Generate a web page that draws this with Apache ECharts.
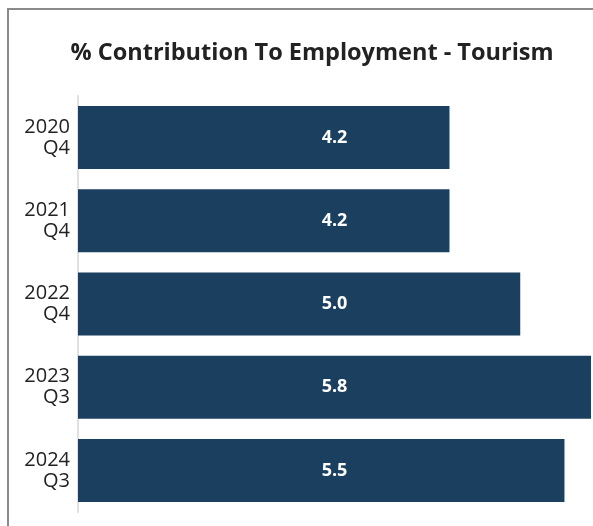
<!DOCTYPE html>
<html><head><meta charset="utf-8">
<script src="https://cdn.jsdelivr.net/npm/echarts@6/dist/echarts.min.js"></script>
<style>html,body{margin:0;padding:0;background:#fff}#c{width:593px;height:526px}</style>
</head><body><div id="c"></div>
<script>
const title = '% Contribution To Employment - Tourism';
const categories = ['2020\nQ4', '2021\nQ4', '2022\nQ4', '2023\nQ3', '2024\nQ3'];
const values = [4.2, 4.2, 5.0, 5.8, 5.5];
const axisMax = Math.max(...values);

const chart = echarts.init(document.getElementById('c'), null, {renderer: 'canvas'});
chart.setOption({
  animation: false,
  backgroundColor: '#fff',
  title: {
    text: title, left: 307, top: 36, textAlign: 'center',
    textStyle: {fontFamily: 'Open Sans', fontWeight: 'bold', fontSize: 23.5, color: '#222'}
  },
  graphic: [{
    type: 'rect', silent: true,
    shape: {x: 8, y: 9, width: 800, height: 800},
    style: {fill: 'none', stroke: '#8a8a8a', lineWidth: 2}
  }],
  grid: {left: 78, right: 2, top: 96, bottom: 14, containLabel: false},
  xAxis: {type: 'value', min: 0, max: axisMax, show: false},
  yAxis: {
    type: 'category', data: categories, inverse: true,
    axisLine: {show: true, lineStyle: {color: '#e0e0e0', width: 2}},
    axisTick: {show: false},
    axisLabel: {fontFamily: 'Open Sans', fontSize: 20, color: '#222', align: 'right', margin: 8, lineHeight: 21}
  },
  series: [{
    type: 'bar', data: values, barWidth: 63,
    itemStyle: {color: '#1b3f5f'}, z: 2
  }, {
    type: 'bar', data: values.map(() => axisMax), barWidth: 63, barGap: '-100%',
    itemStyle: {color: 'rgba(0,0,0,0)'}, z: 3, silent: true,
    label: {
      show: true, position: 'inside', color: '#fff', fontFamily: 'Open Sans',
      fontWeight: 'bold', fontSize: 18,
      formatter: p => values[p.dataIndex].toFixed(1)
    }
  }]
});
</script></body></html>
